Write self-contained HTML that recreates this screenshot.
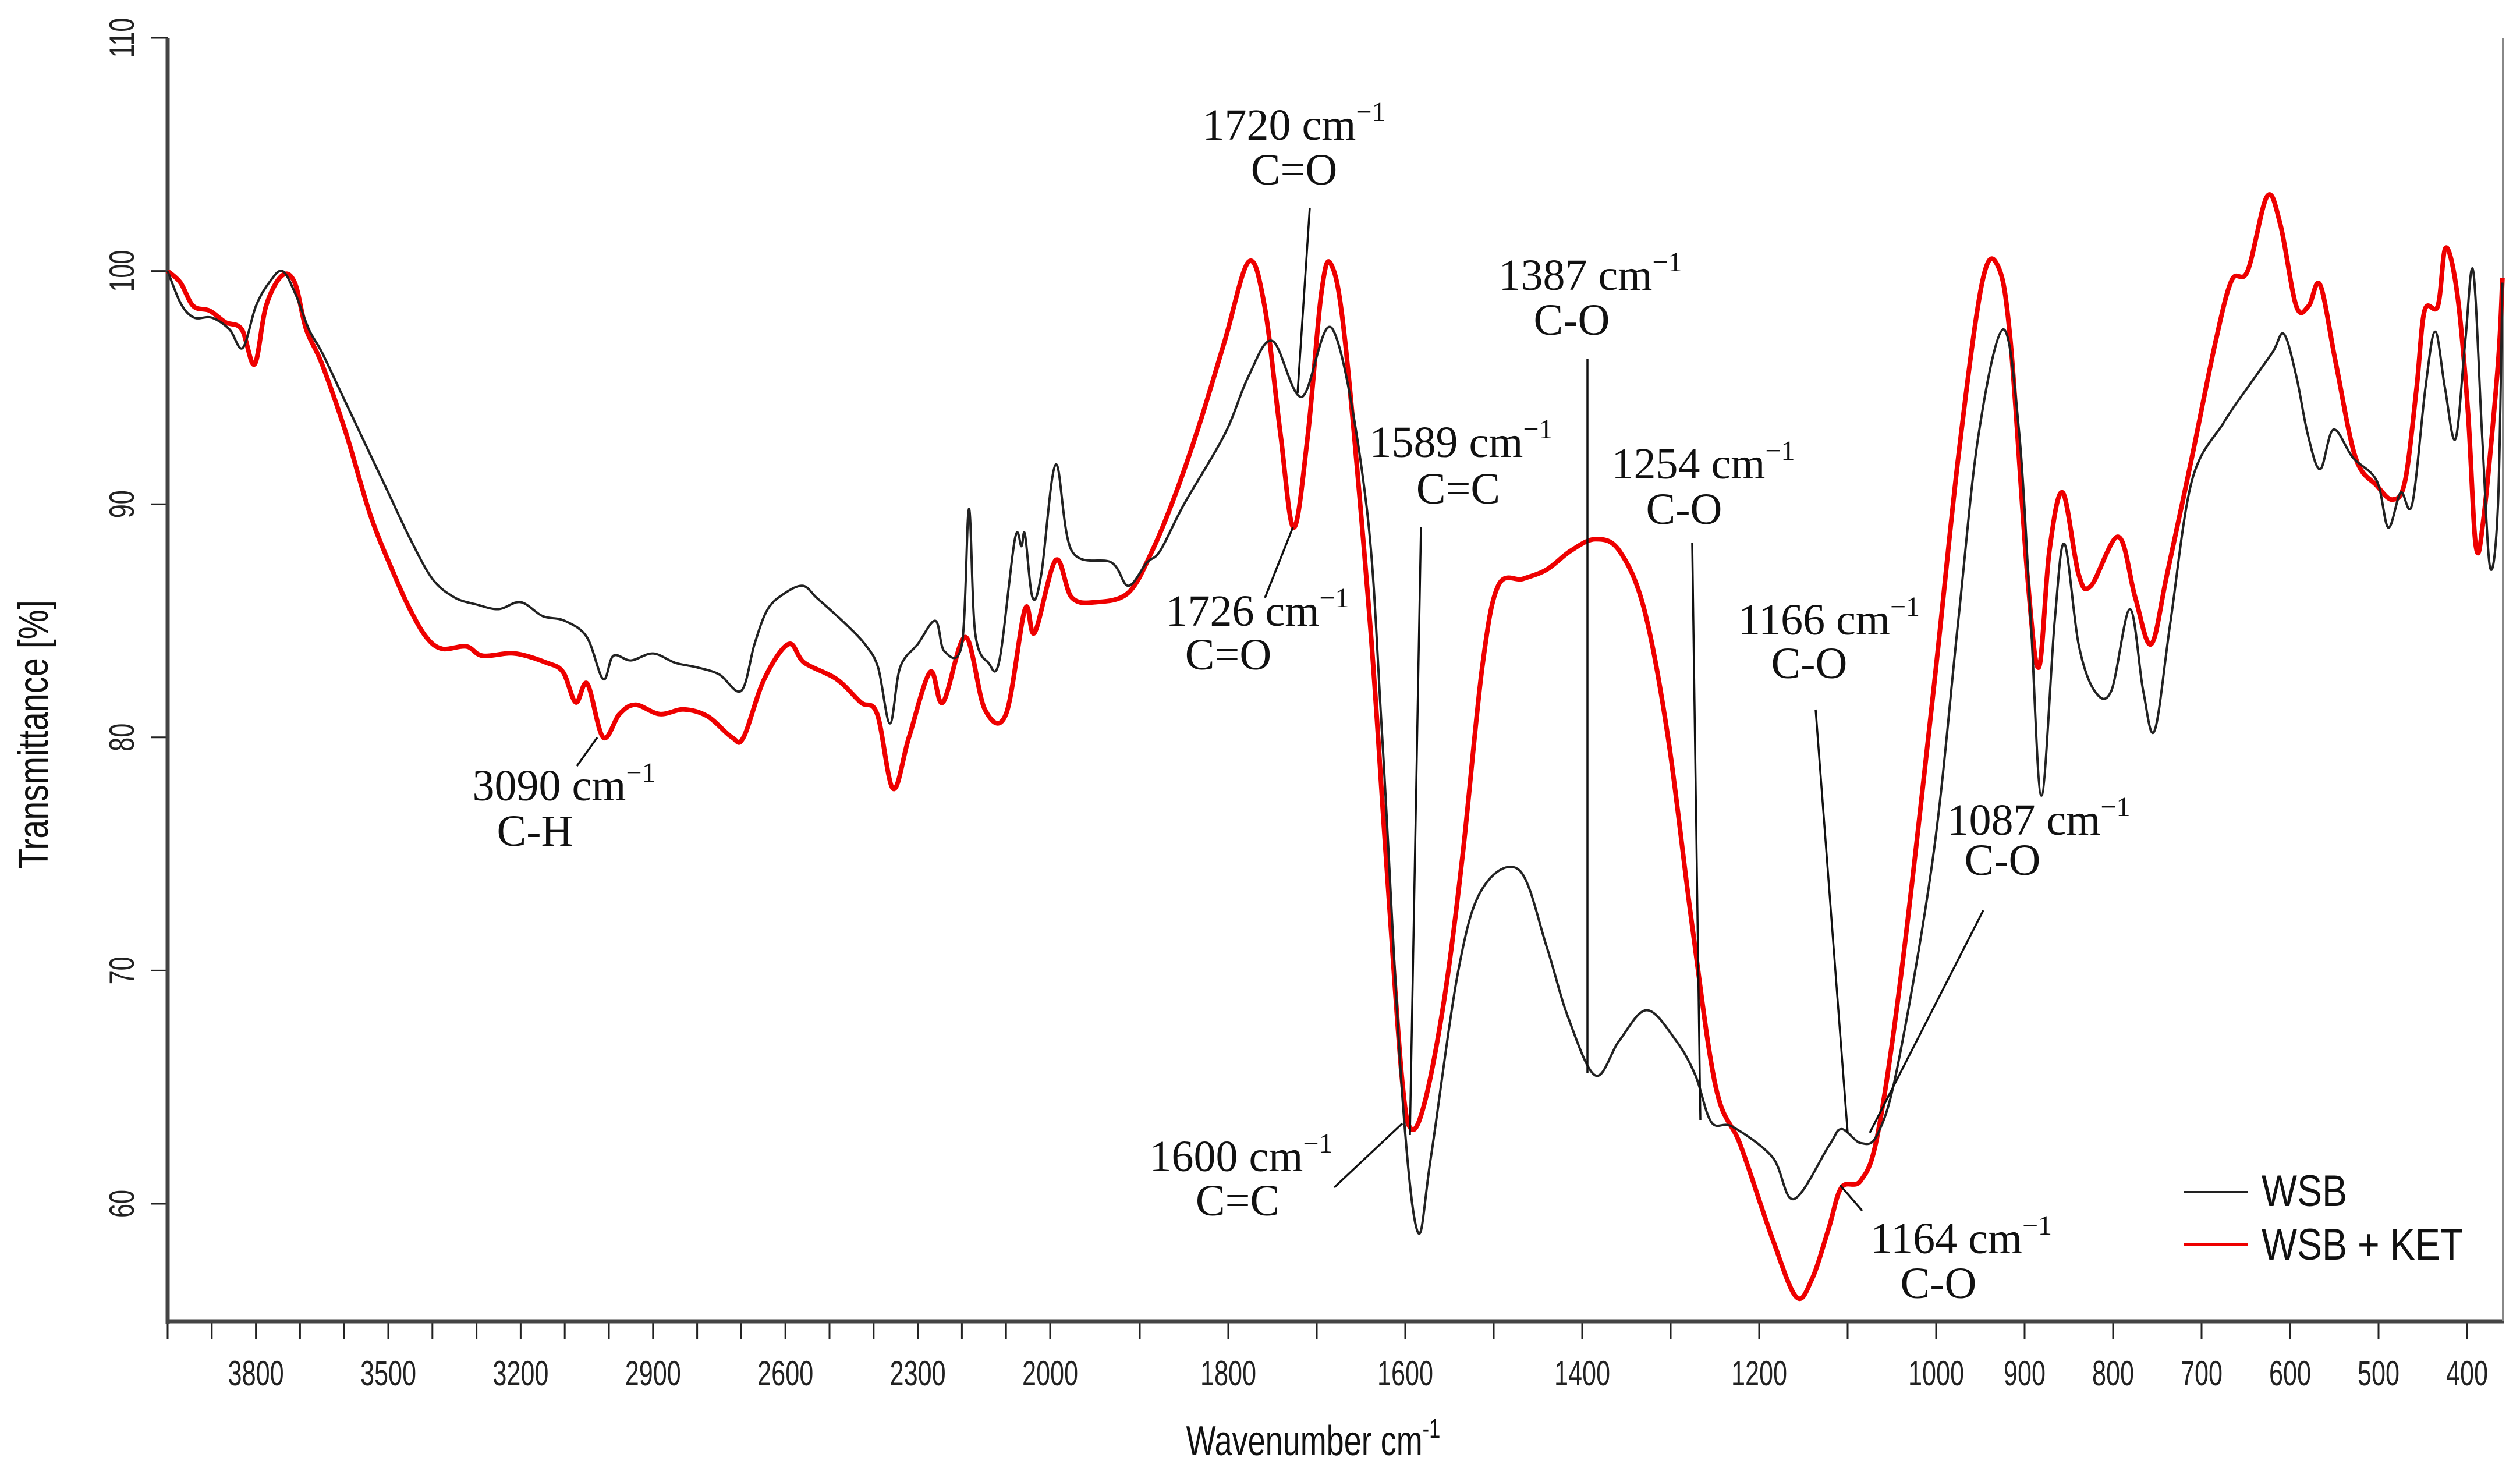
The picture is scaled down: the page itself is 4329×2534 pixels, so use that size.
<!DOCTYPE html>
<html><head><meta charset="utf-8"><style>
html,body{margin:0;padding:0;background:#fff;}
svg{display:block;}
.ann{font-family:"Liberation Serif",serif;font-size:76px;fill:#111;}
.tick{font-family:"Liberation Sans",sans-serif;font-size:60px;fill:#222;}
</style></head><body>
<svg id="chart" width="4329" height="2534" viewBox="0 0 4329 2534" xmlns="http://www.w3.org/2000/svg">
<g id="axes"></g>
<g id="series"></g>
<g id="annots"></g>
<g>
  <line x1="3752" y1="2048" x2="3862" y2="2048" stroke="#222" stroke-width="4"/>
  <text x="3885" y="2072" font-family="Liberation Sans, sans-serif" font-size="76" fill="#111" transform="translate(3885 0) scale(0.85 1) translate(-3885 0)">WSB</text>
  <line x1="3752" y1="2138" x2="3862" y2="2138" stroke="#e00" stroke-width="6"/>
  <text x="3885" y="2164" font-family="Liberation Sans, sans-serif" font-size="76" fill="#111" transform="translate(3885 0) scale(0.85 1) translate(-3885 0)">WSB + KET</text>
</g>
<text x="2256" y="2500" text-anchor="middle" font-family="Liberation Sans, sans-serif" font-size="72" fill="#111" transform="translate(2256 0) scale(0.75 1) translate(-2256 0)">Wavenumber cm<tspan font-size="46" dy="-30">-1</tspan></text>
<text x="0" y="0" text-anchor="middle" font-family="Liberation Sans, sans-serif" font-size="72" fill="#111" transform="translate(82 1262) rotate(-90) scale(0.8 1)">Transmittance [%]</text>
</svg>
<script>
// ---- data ----
const wsbWave = [4000,3970,3940,3900,3860,3830,3800,3770,3740,3710,3680,3650,3600,3550,3500,3450,3400,3350,3300,3250,3200,3150,3100,3050,3013,2990,2950,2900,2850,2800,2750,2700,2670,2640,2600,2560,2530,2500,2460,2420,2390,2363,2340,2300,2260,2240,2200,2184,2170,2140,2115,2080,2065,2057,2040,2020,1995,1977,1932,1913,1892,1877,1850,1804,1777,1750,1717,1682,1644,1626,1604,1586,1571,1540,1513,1471,1440,1416,1385,1358,1327,1294,1272,1254,1230,1185,1161,1121,1107,1085,1066,1043,1003,975,952,924,906,893,881,866,855,839,821,802,781,766,753,735,711,675,648,620,607,593,580,566,551,529,502,489,475,462,447,436,425,413,402,393,383,374,365,360];
const wsbT = [100,98.6,98,98,97.5,96.7,98.5,99.5,100,99,97.5,96.5,94.5,92.5,90.5,88.5,86.8,86,85.7,85.5,85.8,85.2,85,84.3,82.5,83.5,83.3,83.6,83.2,83,82.7,82,84,85.5,86.2,86.5,86,85.5,84.8,84,83,80.6,83,84,85,83.7,84,89.8,84.5,83.2,83.3,88.5,88.2,88.7,86,87,91.7,88,87.5,86.5,87.5,88,90,93,95.5,97,94.6,97.5,90,80,65,58.8,62,70,73.5,74.3,71,68,65.5,67,68.3,67,65.5,63.5,63.3,62,60.2,62.5,63.2,62.6,63,66,75,85,93,97.5,93,85,77.5,85,88.3,84,82,82,85.5,82,80.3,85,91,93.5,95,96.5,97.3,95.5,93,91.5,93.2,92,91,89,90.5,90,95,97.4,95,92.8,97,100,93,87.3,90,99.5];
const ketWave = [4000,3971,3942,3905,3869,3832,3803,3777,3741,3712,3686,3650,3595,3540,3487,3451,3414,3378,3323,3286,3214,3141,3104,3075,3049,3013,2976,2940,2885,2830,2776,2721,2695,2648,2593,2557,2484,2429,2392,2356,2320,2272,2243,2192,2148,2100,2057,2035,1995,1977,1950,1913,1886,1859,1832,1804,1777,1759,1741,1726,1710,1695,1684,1668,1640,1622,1604,1593,1577,1555,1535,1513,1495,1467,1440,1413,1385,1358,1330,1303,1276,1249,1221,1185,1158,1140,1121,1107,1085,1066,1039,1003,975,948,930,916,897,884,872,857,839,825,794,775,757,739,711,684,666,648,626,611,593,579,566,548,526,502,484,470,457,448,433,424,411,399,390,381,365,360];
const ketT = [100,99.5,98.5,98.3,97.8,97.5,96,98.5,99.8,99.5,97.5,96,93,89.5,87,85.5,84.3,83.8,83.9,83.5,83.6,83.2,82.8,81.5,82.3,80,81,81.4,81,81.2,80.9,80,80,82.5,84,83.2,82.5,81.5,81,77.8,80,82.8,81.5,84.3,81.2,81,85.5,84.5,87.6,86,85.8,86.2,88,90.5,93.5,97,100.4,98.5,93,89,93,99,100.3,97,85,75,65.5,63.2,64.5,69,75,83,86.5,86.8,87.2,88,88.5,88,85.5,80,72,65,62.5,58.5,56,56.8,59,60.7,61,63,70,82,92,99.5,100.2,97,87,83,88,90.5,87,86.5,88.6,86,84,87,92,97,99.6,100,103.2,102,98.5,98.5,99.4,96,92,90.8,90.2,91,95,98.3,98.5,101,99,94,88.2,89.5,96,99.7];
const xTickUpper = [3800,3500,3200,2900,2600,2300,2000];
const xTickLower = [1800,1600,1400,1200,1000,900,800,700,600,500,400];
const yTicks = [60,70,80,90,100,110];
const annLabels = ["1720","1726","1589","1387","1254","1166","1087","1164","1600","3090"];
const annGroups = ["C=O","C=O","C=C","C-O","C-O","C-O","C-O","C-O","C=C","C-H"];

// ---- axis functions ----
const X0=288, X2000=1806, SU=0.758, SL=1.52;
function xs(w){ return w>=2000 ? X0+(4000-w)*SU : X2000+(2000-w)*SL; }
function ys(t){ return 65+(110-t)*40.06; }
const NS='http://www.w3.org/2000/svg';
function mk(tag,attrs,parent){const e=document.createElementNS(NS,tag);for(const k in attrs)e.setAttribute(k,attrs[k]);parent.appendChild(e);return e;}

const axes=document.getElementById('axes');
for(let w=4000;w>=400;w-=100){
  const t=mk('line',{x1:xs(w),y1:2270,x2:xs(w),y2:2300,stroke:'#222','stroke-width':3},axes);
  
  
}
xTickUpper.concat(xTickLower).forEach(w=>{
  const cx=xs(w);
  const t=mk('text',{x:cx,y:2380,'text-anchor':'middle',class:'tick',transform:`translate(${cx} 0) scale(0.72 1) translate(${-cx} 0)`},axes);
  t.textContent=w;
  
  
});
yTicks.forEach(v=>{
  const y=ys(v);
  const l=mk('line',{x1:260,y1:y,x2:288,y2:y,stroke:'#222','stroke-width':3},axes);
  
  
  const t=mk('text',{x:0,y:0,'text-anchor':'middle',class:'tick',transform:`translate(230 ${y}) rotate(-90) scale(0.72 1)`},axes);
  t.textContent=v;
  
  
});
const la=mk('line',{x1:288,y1:65,x2:288,y2:2274,stroke:'#444','stroke-width':7},axes);


const ba=mk('line',{x1:285,y1:2270,x2:4302,y2:2270,stroke:'#444','stroke-width':7},axes);


const ra=mk('line',{x1:4300,y1:65,x2:4300,y2:2270,stroke:'#888','stroke-width':4},axes);



function pathFor(W,T){
  const p=W.map((w,i)=>[xs(w),ys(T[i])]);
  let d=`M${p[0][0].toFixed(1)},${p[0][1].toFixed(1)}`;
  for(let i=0;i<p.length-1;i++){
    const a=p[Math.max(i-1,0)],b=p[i],c=p[i+1],e=p[Math.min(i+2,p.length-1)];
    const c1=[b[0]+(c[0]-a[0])/6,b[1]+(c[1]-a[1])/6],c2=[c[0]-(e[0]-b[0])/6,c[1]-(e[1]-b[1])/6];
    d+=`C${c1[0].toFixed(1)},${c1[1].toFixed(1)} ${c2[0].toFixed(1)},${c2[1].toFixed(1)} ${c[0].toFixed(1)},${c[1].toFixed(1)}`;
  }
  return d;
}
const ser=document.getElementById('series');
const pk=mk('path',{d:pathFor(ketWave,ketT),fill:'none',stroke:'#e00','stroke-width':8,'stroke-linejoin':'round'},ser);


const pb=mk('path',{d:pathFor(wsbWave,wsbT),fill:'none',stroke:'#222','stroke-width':4,'stroke-linejoin':'round'},ser);



const annLayout=[
  [2223,240,2223,317,2250,357,2229,676],
  [2160,1075,2110,1150,2173,1027,2221,906],
  [2510,785,2505,865,2441,906,2422,1950],
  [2732,498,2700,575,2727,616,2727,1843],
  [2926,822,2893,900,2907,933,2921,1924],
  [3142,1090,3108,1165,3119,1219,3174,1946],
  [3502,1434,3440,1503,3407,1564,3212,1946],
  [3369,2153,3330,2230,3199,2080,3161,2036],
  [2132,2012,2126,2088,2292,2040,2409,1930],
  [969,1375,919,1453,991,1316,1026,1267]
];
const an=document.getElementById('annots');
annLabels.forEach((lab,i)=>{
  const L=annLayout[i];
  const t=mk('text',{x:L[0],y:L[1],'text-anchor':'middle',class:'ann'},an);
  t.innerHTML=lab+' cm<tspan font-size="48" dy="-32">−1</tspan>';
  
  
  const g=mk('text',{x:L[2],y:L[3],'text-anchor':'middle',class:'ann'},an);
  g.textContent=annGroups[i];
  
  
  const l=mk('line',{x1:L[4],y1:L[5],x2:L[6],y2:L[7],stroke:'#111','stroke-width':3.5},an);
  
  
});
</script>
</body></html>
